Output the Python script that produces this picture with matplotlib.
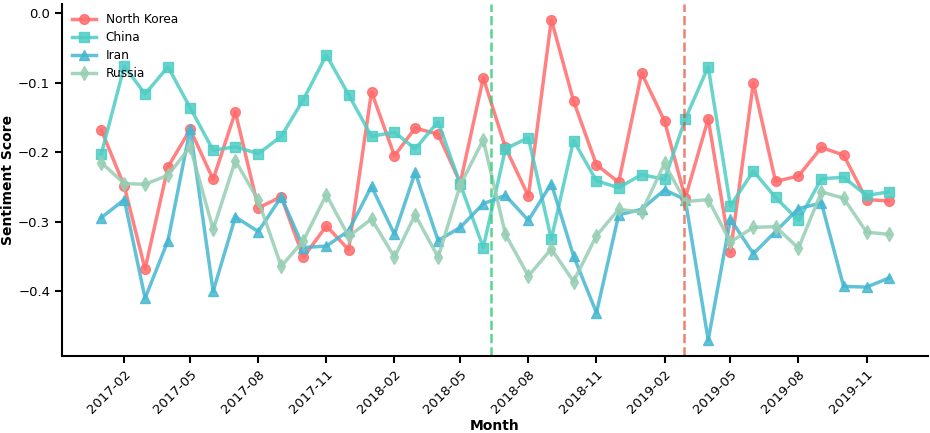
import numpy as np
import pandas as pd
import matplotlib
matplotlib.use('Agg')
import matplotlib.pyplot as plt
import matplotlib.dates as mdates

months = pd.date_range('2017-01-01', periods=36, freq='MS')

north_korea = [-0.168, -0.249, -0.368, -0.221, -0.167, -0.239, -0.142, -0.280, -0.264, -0.351, -0.306, -0.340,
               -0.113, -0.205, -0.165, -0.174, -0.244, -0.093, -0.193, -0.263, -0.009, -0.126, -0.218, -0.243,
               -0.086, -0.155, -0.266, -0.152, -0.344, -0.100, -0.242, -0.234, -0.193, -0.204, -0.268, -0.270]
china = [-0.202, -0.076, -0.116, -0.077, -0.136, -0.197, -0.192, -0.202, -0.177, -0.124, -0.060, -0.117,
         -0.177, -0.171, -0.195, -0.156, -0.246, -0.337, -0.195, -0.179, -0.325, -0.183, -0.241, -0.251,
         -0.232, -0.239, -0.152, -0.077, -0.277, -0.227, -0.265, -0.298, -0.238, -0.236, -0.262, -0.257]
iran = [-0.294, -0.268, -0.410, -0.327, -0.166, -0.400, -0.293, -0.314, -0.264, -0.337, -0.335, -0.313,
        -0.249, -0.318, -0.229, -0.327, -0.308, -0.274, -0.262, -0.298, -0.245, -0.349, -0.431, -0.290,
        -0.282, -0.254, -0.268, -0.470, -0.296, -0.346, -0.314, -0.281, -0.273, -0.393, -0.394, -0.381]
russia = [-0.215, -0.245, -0.246, -0.233, -0.192, -0.311, -0.212, -0.269, -0.364, -0.327, -0.261, -0.321,
          -0.296, -0.351, -0.290, -0.351, -0.247, -0.182, -0.318, -0.378, -0.339, -0.386, -0.320, -0.282,
          -0.286, -0.216, -0.271, -0.268, -0.329, -0.308, -0.307, -0.338, -0.257, -0.266, -0.315, -0.318]

series = [
    ('North Korea', north_korea, '#FF6B6B', 'o'),
    ('China', china, '#4ECDC4', 's'),
    ('Iran', iran, '#45B7D1', '^'),
    ('Russia', russia, '#96CEB4', 'd'),
]

summit_singapore = pd.Timestamp('2018-06-12')
summit_hanoi = pd.Timestamp('2019-02-27')

fig = plt.figure(figsize=(9.3, 4.33), dpi=100)
ax = fig.add_axes([0.0667, 0.178, 0.9313, 0.8137])

for name, vals, color, marker in series:
    ax.plot(months, vals, color=color, marker=marker, markersize=7,
            linewidth=2.5, alpha=0.85, label=name)

ax.axvline(summit_singapore, color='#2ecc71', linestyle='--', linewidth=1.8, alpha=0.8)
ax.axvline(summit_hanoi, color='#e74c3c', linestyle='--', linewidth=1.8, alpha=0.7)

ax.xaxis.set_major_locator(mdates.MonthLocator(bymonth=[2, 5, 8, 11]))
ax.xaxis.set_major_formatter(mdates.DateFormatter('%Y-%m'))
plt.setp(ax.get_xticklabels(), rotation=45, ha='right', rotation_mode='anchor')
ax.tick_params(labelsize=9.5, width=1.5, length=5)

for side in ['top', 'right']:
    ax.spines[side].set_visible(False)
for side in ['left', 'bottom']:
    ax.spines[side].set_linewidth(1.5)

ax.set_xlabel('Month', fontsize=10, fontweight='bold', labelpad=2)
ax.set_ylabel('Sentiment Score', fontsize=10, fontweight='bold', labelpad=2)
ax.legend(loc='upper left', frameon=False, fontsize=8.7, borderaxespad=0.4,
          labelspacing=0.4, handlelength=2.0)

fig.savefig('out.png', dpi=100)
